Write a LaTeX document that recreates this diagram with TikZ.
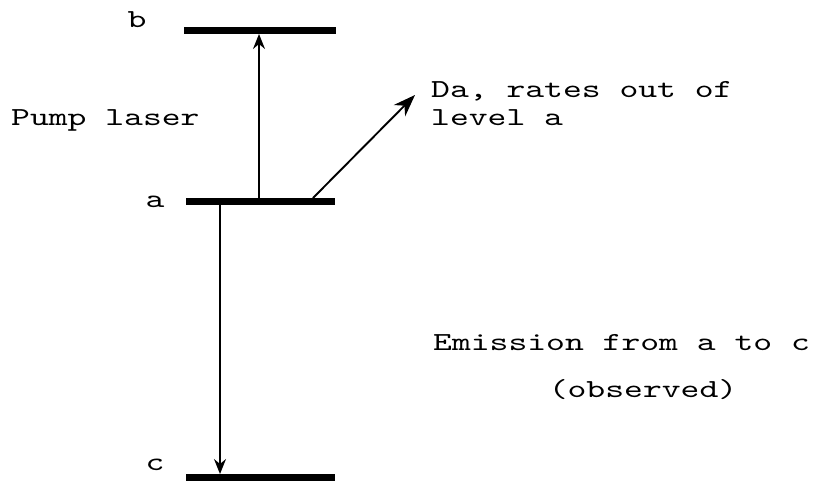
\documentclass[tikz,border=0pt]{standalone}
\usepackage{fontspec}
\newfontfamily\typew[FakeStretch=1.38]{lmmono10-regular.otf}
\usetikzlibrary{arrows.meta}
\tikzset{
  level/.style={line width=7pt},
  txt/.style={inner sep=0pt, font=\typew\fontsize{26}{28}\selectfont},
  lbl/.style={txt, anchor=base},
  transition/.style={line width=1.7pt, -{Stealth[length=15pt,width=12pt,inset=5pt]}},
  loss/.style={line width=1.9pt, -{Stealth[length=22pt,width=16pt,inset=7pt]}}
}
\begin{document}
\begin{tikzpicture}[x=1pt,y=-1pt]
\useasboundingbox (0,0) rectangle (822,482);
% levels
\coordinate (bL) at (184,30);  \coordinate (bR) at (336,30);
\coordinate (aL) at (186,201); \coordinate (aR) at (335,201);
\coordinate (cL) at (186,477); \coordinate (cR) at (335,477);
\draw[level] (bL) -- (bR);
\draw[level] (aL) -- (aR);
\draw[level] (cL) -- (cR);
% level labels
\node[lbl] (lb) at (137,27) {b};
\node[lbl] (la) at (155,207) {a};
\node[lbl] (lc) at (155,470) {c};
% connector end points
\coordinate (aUp) at (259,198);
\coordinate (bHit) at (259,34);
\coordinate (aOut) at (313,198);
\coordinate (daTip) at (415,95);
\coordinate (aDn) at (220,204);
\coordinate (cHit) at (220,474);
\draw[transition] (aUp) -- (bHit);
\draw[loss] (aOut) -- (daTip);
\draw[transition] (aDn) -- (cHit);
% texts
\node[txt, anchor=base west] (pump) at (11,125) {Pump laser};
\node[txt, anchor=base west] (da1) at (431,97) {Da, rates out of};
\node[txt, anchor=base west] (da2) at (431,125) {level a};
\node[txt, anchor=base west] (em1) at (433,350) {Emission from a to c};
\node[txt, anchor=base] (em2) at (643,397) {(observed)};
\end{tikzpicture}
\end{document}
